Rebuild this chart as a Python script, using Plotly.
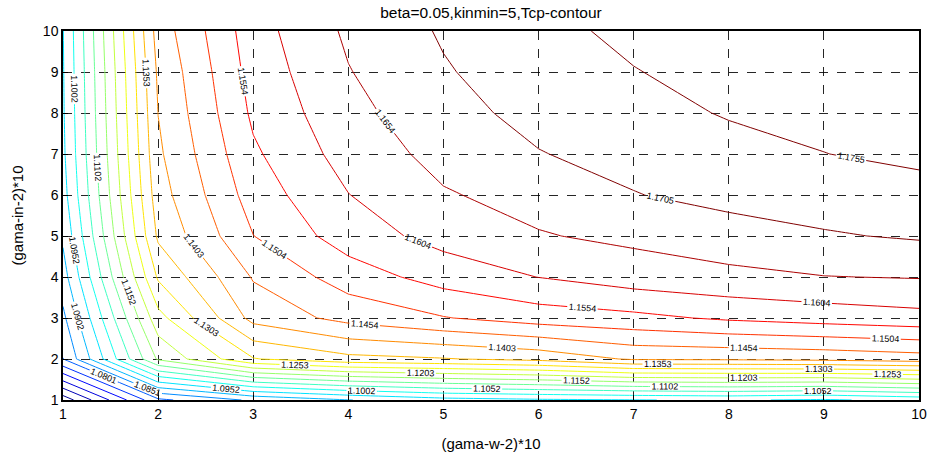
import plotly.graph_objects as go

# grid coordinates
gama_w = [1, 2, 3, 4, 5, 6, 7, 8, 9, 10]
gama_in = [1, 2, 3, 4, 5, 6, 7, 8, 9, 10]

# Tcp values, one row per gama-in step (y = 1 .. 10), columns follow gama-w
tcp_in1 = [1.0520, 1.0790, 1.0860, 1.0900, 1.0932, 1.0944, 1.0950, 1.0957, 1.0945, 1.0968]
tcp_in2 = [1.0800, 1.1160, 1.1300, 1.1339, 1.1350, 1.1368, 1.1410, 1.1412, 1.1418, 1.1430]
tcp_in3 = [1.0840, 1.1235, 1.1420, 1.1470, 1.1501, 1.1528, 1.1541, 1.1562, 1.1576, 1.1588]
tcp_in4 = [1.0880, 1.1310, 1.1458, 1.1528, 1.1575, 1.1605, 1.1630, 1.1644, 1.1653, 1.1657]
tcp_in5 = [1.0910, 1.1362, 1.1503, 1.1579, 1.1622, 1.1651, 1.1665, 1.1678, 1.1700, 1.1710]
tcp_in6 = [1.0932, 1.1382, 1.1527, 1.1603, 1.1650, 1.1672, 1.1702, 1.1724, 1.1728, 1.1737]
tcp_in7 = [1.0942, 1.1395, 1.1546, 1.1625, 1.1670, 1.1702, 1.1725, 1.1740, 1.1754, 1.1766]
tcp_in8 = [1.0946, 1.1404, 1.1563, 1.1640, 1.1685, 1.1722, 1.1740, 1.1758, 1.1768, 1.1778]
tcp_in9 = [1.0948, 1.1412, 1.1574, 1.1652, 1.1700, 1.1733, 1.1753, 1.1770, 1.1780, 1.1790]
tcp_in10 = [1.0950, 1.1426, 1.1583, 1.1663, 1.1710, 1.1742, 1.1765, 1.1780, 1.1790, 1.1800]

# contour levels
level_start = 1.055018
level_step = 0.005019
level_end = 1.1755

tick_vals = [1, 2, 3, 4, 5, 6, 7, 8, 9, 10]

tcp = [tcp_in1, tcp_in2, tcp_in3, tcp_in4, tcp_in5,
       tcp_in6, tcp_in7, tcp_in8, tcp_in9, tcp_in10]

jet = [
    [0.0, "rgb(0,0,143)"],
    [0.125, "rgb(0,0,255)"],
    [0.375, "rgb(0,255,255)"],
    [0.625, "rgb(255,255,0)"],
    [0.875, "rgb(255,0,0)"],
    [1.0, "rgb(128,0,0)"],
]

font_family = "Liberation Sans, Arial, Helvetica, sans-serif"

fig = go.Figure(
    go.Contour(
        x=gama_w,
        y=gama_in,
        z=tcp,
        colorscale=jet,
        zmin=level_start,
        zmax=1.175474,
        zauto=False,
        showscale=False,
        autocontour=False,
        contours=dict(
            start=level_start,
            end=level_end,
            size=level_step,
            coloring="lines",
            showlabels=True,
            labelformat=".4f",
            labelfont=dict(size=9, color="black", family=font_family),
        ),
        line=dict(width=1, smoothing=0),
        hoverinfo="skip",
    )
)

axis_common = dict(
    tickvals=tick_vals,
    showline=True,
    linecolor="black",
    linewidth=1.5,
    mirror=True,
    ticks="inside",
    ticklen=5,
    tickcolor="black",
    showgrid=True,
    gridcolor="rgba(0,0,0,0.85)",
    griddash="dash",
    gridwidth=1,
    zeroline=False,
    automargin=False,
    tickfont=dict(size=14, color="black", family=font_family),
)

fig.update_xaxes(
    range=[1, 10],
    title=dict(text="(gama-w-2)*10", font=dict(size=15, color="black", family=font_family), standoff=18),
    **axis_common,
)
fig.update_yaxes(
    range=[1, 10],
    title=dict(text="(gama-in-2)*10", font=dict(size=15, color="black", family=font_family), standoff=16),
    **axis_common,
)

fig.update_layout(
    width=929,
    height=457,
    margin=dict(l=63, r=10, t=31, b=57),
    paper_bgcolor="white",
    plot_bgcolor="white",
    title=dict(
        text="beta=0.05,kinmin=5,Tcp-contour",
        x=0.5285,
        xanchor="center",
        y=0.985,
        yanchor="top",
        font=dict(size=15.5, color="black", family=font_family),
    ),
    showlegend=False,
)

fig.write_html("out.html")
